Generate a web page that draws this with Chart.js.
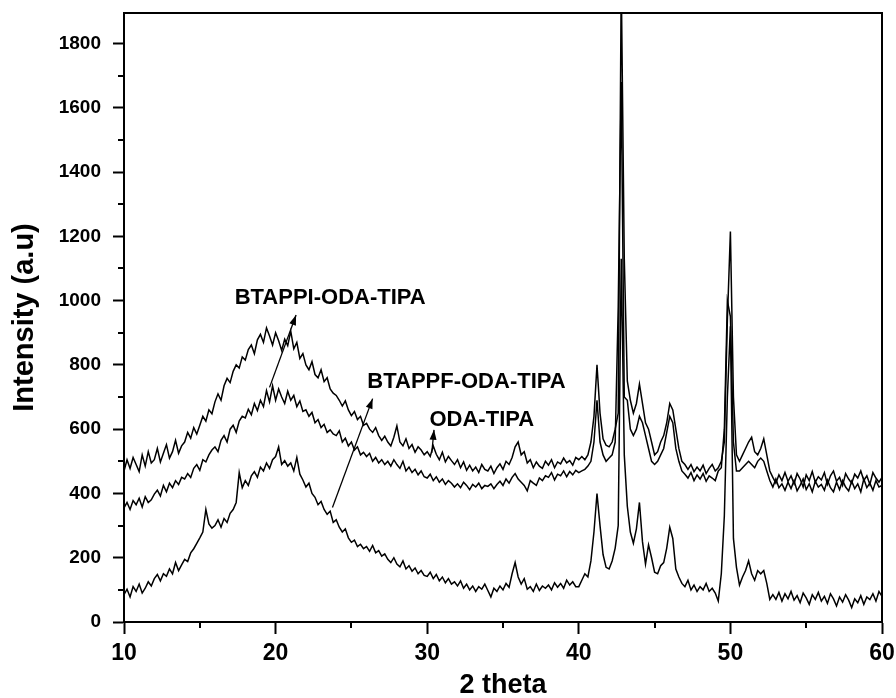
<!DOCTYPE html>
<html>
<head>
<meta charset="utf-8">
<script src="https://cdn.jsdelivr.net/npm/chart.js@4.4.1/dist/chart.umd.min.js"></script>
<style>
  html, body { margin: 0; padding: 0; background: #fff; }
  #wrap { width: 896px; height: 698px; }
</style>
</head>
<body>
<div id="wrap"><canvas id="xrd" width="896" height="698"></canvas></div>
<script>
'use strict';

// ---- Data (2 theta from 10 to 60, one reading every 0.2 deg) ----
var thetaStart = 10;
var thetaStep = 0.2;

// upper curve
var odaTipa = [
  470, 505, 478, 512, 490, 468, 520, 485, 530, 495,
  505, 540, 498, 525, 552, 510, 530, 565, 525, 548,
  560, 590, 572, 605, 585, 612, 640, 625, 660, 648,
  685, 710, 690, 735, 758, 745, 780, 800, 790, 825,
  815, 848, 862, 835, 878, 895, 870, 915, 890, 862,
  900, 875, 845, 880, 860, 905, 850, 870, 820, 835,
  800, 785, 810, 770, 760, 785, 748, 760, 725, 712,
  705, 690, 672, 688, 660, 642, 655, 630, 640, 612,
  618, 600, 590, 605, 580, 565, 578, 560, 548, 575,
  610, 560, 548, 570, 540, 552, 528, 545, 535, 520,
  530, 515, 548, 522, 505, 528, 498, 515, 502, 490,
  505, 480, 498, 472, 488, 470, 482, 465, 490, 475,
  470, 485, 462, 480, 492, 475, 500, 490, 512, 545,
  560, 520, 530, 495, 505, 480, 498, 485, 478, 500,
  488, 505, 480, 498, 492, 510, 495, 502, 488, 512,
  505, 515, 505, 520, 560, 640, 800, 650, 570, 550,
  545, 560, 600, 650, 2000, 1130, 750, 690, 650, 680,
  740, 680, 620, 600, 560, 520, 530, 560, 580, 620,
  680, 660, 600, 540, 500, 490, 475, 490, 468, 482,
  470, 488, 462, 478, 490, 470, 480, 500, 560, 940,
  1215, 700, 520, 500, 520, 540, 560, 575, 530, 520,
  540, 570, 520, 470, 450, 432, 458, 440, 465, 438,
  455, 430, 462, 445, 420, 458, 440, 468, 435, 452,
  442, 465, 428, 455, 470, 438, 450, 425, 462, 445,
  432, 460, 448, 470, 440, 455, 428, 465, 448, 435,
  450
];

// middle curve
var btappiOdaTipa = [
  355, 372, 350, 378, 365, 385, 358, 390, 372, 380,
  398, 410, 392, 425, 405, 432, 418, 440, 428, 450,
  445, 462, 450, 478, 490, 472, 505, 498, 520, 535,
  545, 530, 565, 580, 560, 600, 612, 590, 625, 640,
  635, 662, 645, 680, 658, 690, 670, 720, 685, 735,
  690, 725, 700, 680, 718, 690, 705, 670, 688, 655,
  660, 640, 652, 620, 630, 605, 615, 590, 598, 585,
  580, 595, 560, 572, 548, 560, 535, 545, 520, 528,
  515, 525, 500, 512, 495, 505, 490, 500, 485, 505,
  490, 478, 500, 470, 482, 465, 475, 458, 470, 452,
  448, 460, 440, 452, 435, 445, 428, 440, 432, 420,
  430, 418, 435, 425, 412, 428, 420, 432, 415, 425,
  422, 430, 415, 428, 438, 425, 445, 432, 450, 462,
  445, 435, 425, 408, 440, 432, 425, 448, 440, 455,
  450, 465, 442, 460, 455, 470, 452, 468, 458, 472,
  465, 470, 475, 485, 500, 560, 690, 560, 520, 500,
  510, 520, 560, 980, 1680, 700, 690, 600, 580, 600,
  640, 620, 580, 540, 500, 490, 500, 520, 540, 590,
  640, 620, 540, 500, 470, 460, 448, 465, 440, 458,
  445, 462, 438, 455, 448, 440, 470, 480, 600, 1000,
  950, 560, 470, 470, 480, 490, 500, 490, 480, 500,
  510, 500, 470, 440, 420, 445, 418, 430, 410, 435,
  415, 440, 408, 425, 445, 412, 430, 405, 438, 420,
  428, 410, 442, 418, 405, 435, 412, 440, 420, 408,
  438, 415, 430, 405, 445, 418, 432, 410, 440, 420,
  425
];

// lower curve
var btappfOdaTipa = [
  85, 102, 78, 110, 95, 118, 90, 105, 125, 112,
  135, 148, 128, 150, 142, 165, 150, 185, 160, 178,
  195, 188, 215, 228, 245, 262, 280, 350, 305, 292,
  300, 318, 295, 322, 310, 338, 350, 372, 465, 418,
  440, 425, 455, 468, 450, 482, 470, 495, 478, 505,
  515, 545, 490, 502, 485, 495, 470, 512, 460, 442,
  420, 432, 400, 388, 365, 375, 350, 335, 345, 310,
  318, 295, 280, 290, 262, 248, 255, 235, 242, 228,
  235, 220, 238, 215, 222, 205, 212, 195, 185, 200,
  180, 172, 190, 165, 175, 158, 168, 150, 160, 145,
  142, 155, 135, 148, 128, 140, 122, 135, 118, 125,
  112, 128, 105, 118, 100, 112, 95, 110, 102, 118,
  98, 78, 105, 95, 112, 100, 120, 108, 150, 185,
  140, 118, 135, 102, 110, 95, 118, 98, 112, 105,
  115, 100, 122, 108, 120, 105, 130, 115, 125, 110,
  110, 130, 150, 140, 190, 280, 400, 300, 210, 170,
  165, 190, 230, 300, 1130, 520, 360, 280, 245, 290,
  372, 250, 180, 240, 200, 155, 150, 175, 185, 230,
  295, 260, 165, 140, 120, 110, 130, 100, 115, 95,
  110, 100, 120, 95, 105, 90, 65, 150, 330, 700,
  920, 260, 170, 115, 140, 160, 190, 150, 130, 160,
  150, 160, 120, 70, 85, 70, 92, 65, 88, 72,
  95, 68, 82, 60, 90, 75, 55, 85, 70, 92,
  65, 80, 58, 88, 72, 50, 78, 62, 85, 68,
  45, 72, 60, 82, 55, 78, 70, 88, 65, 95,
  80
];

var xTicks = [10, 20, 30, 40, 50, 60];
var xMinorTicks = [15, 25, 35, 45, 55];
var yTicks = [0, 200, 400, 600, 800, 1000, 1200, 1400, 1600, 1800];
var yMinorTicks = [100, 300, 500, 700, 900, 1100, 1300, 1500, 1700];

// curve labels and the arrows pointing at the curves (data coordinates)
var labelTexts = ['BTAPPI-ODA-TIPA', 'BTAPPF-ODA-TIPA', 'ODA-TIPA'];
var labelAt = [[17.3, 1008], [26.05, 747], [30.15, 630]];
var arrowFrom = [[19.6, 730], [23.75, 356], [30.3, 526]];
var arrowTo = [[21.35, 955], [26.4, 695], [30.45, 598]];

var FONT = "'Liberation Sans', Arial, sans-serif";

function toPoints(vals) {
  return vals.map(function(v, i) {
    return { x: Math.round((thetaStart + i * thetaStep) * 10) / 10, y: v };
  });
}

function curve(vals) {
  return {
    data: toPoints(vals),
    borderColor: '#000',
    borderWidth: 1.5,
    pointRadius: 0,
    tension: 0,
    fill: false,
  };
}

// ---- frame, minor ticks, labels with arrows ----
var xrdDecor = {
  id: 'xrdDecor',
  beforeDraw: function(chart) {
    var ctx = chart.ctx;
    ctx.save();
    ctx.fillStyle = '#fff';
    ctx.fillRect(0, 0, chart.width, chart.height);
    ctx.restore();
  },
  afterDraw: function(chart) {
    var ctx = chart.ctx, a = chart.chartArea;
    var xs = chart.scales.x, ys = chart.scales.y;
    ctx.save();
    ctx.strokeStyle = '#000';
    ctx.lineWidth = 2;
    ctx.strokeRect(a.left, a.top, a.right - a.left, a.bottom - a.top);

    ctx.beginPath();
    xMinorTicks.forEach(function(v) {
      var px = Math.round(xs.getPixelForValue(v));
      ctx.moveTo(px, a.bottom);
      ctx.lineTo(px, a.bottom + 6);
    });
    yMinorTicks.forEach(function(v) {
      var py = Math.round(ys.getPixelForValue(v));
      ctx.moveTo(a.left, py);
      ctx.lineTo(a.left - 6, py);
    });
    ctx.stroke();

    ctx.fillStyle = '#000';
    ctx.font = 'bold 22px ' + FONT;
    ctx.textAlign = 'left';
    ctx.textBaseline = 'middle';
    labelTexts.forEach(function(t, i) {
      ctx.fillText(t, xs.getPixelForValue(labelAt[i][0]), ys.getPixelForValue(labelAt[i][1]));
    });

    ctx.lineWidth = 1.3;
    arrowFrom.forEach(function(p, i) {
      var x0 = xs.getPixelForValue(p[0]), y0 = ys.getPixelForValue(p[1]);
      var x1 = xs.getPixelForValue(arrowTo[i][0]), y1 = ys.getPixelForValue(arrowTo[i][1]);
      var ang = Math.atan2(y1 - y0, x1 - x0);
      ctx.beginPath();
      ctx.moveTo(x0, y0);
      ctx.lineTo(x1, y1);
      ctx.stroke();
      ctx.beginPath();
      ctx.moveTo(x1, y1);
      ctx.lineTo(x1 - 10 * Math.cos(ang) + 3.5 * Math.sin(ang), y1 - 10 * Math.sin(ang) - 3.5 * Math.cos(ang));
      ctx.lineTo(x1 - 10 * Math.cos(ang) - 3.5 * Math.sin(ang), y1 - 10 * Math.sin(ang) + 3.5 * Math.cos(ang));
      ctx.closePath();
      ctx.fill();
    });
    ctx.restore();
  }
};

new Chart(document.getElementById('xrd'), {
  type: 'line',
  data: {
    datasets: [curve(odaTipa), curve(btappiOdaTipa), curve(btappfOdaTipa)],
  },
  options: {
    responsive: false,
    animation: false,
    layout: { padding: { top: 13, right: 14, left: 0, bottom: 0 } },
    plugins: {
      legend: { display: false },
      tooltip: { enabled: false },
    },
    scales: {
      x: {
        type: 'linear',
        min: 10,
        max: 60,
        afterBuildTicks: function(s) {
          s.ticks = xTicks.map(function(v) { return { value: v }; });
        },
        afterFit: function(s) {
          s.height = 76;
          s.paddingLeft = 0;
          s.paddingRight = 0;
        },
        grid: { drawOnChartArea: false, tickLength: 12, tickWidth: 2, tickColor: '#000' },
        border: { color: '#000', width: 2 },
        ticks: {
          color: '#000',
          padding: 6,
          maxRotation: 0,
          callback: function(v) { return String(v); },
          font: { family: FONT, size: 23, weight: 'bold' },
        },
        title: {
          display: true,
          text: '2 theta',
          color: '#000',
          padding: { top: 0, bottom: 0 },
          font: { family: FONT, size: 27, weight: 'bold', lineHeight: 0.9 },
        },
      },
      y: {
        type: 'linear',
        min: 0,
        max: 1895,
        afterBuildTicks: function(s) {
          s.ticks = yTicks.map(function(v) { return { value: v }; });
        },
        afterFit: function(s) {
          s.width = 124;
          s.paddingTop = 0;
          s.paddingBottom = 0;
        },
        grid: { drawOnChartArea: false, tickLength: 11, tickWidth: 2, tickColor: '#000' },
        border: { color: '#000', width: 2 },
        ticks: {
          color: '#000',
          padding: 12,
          callback: function(v) { return String(v); },
          font: { family: FONT, size: 19, weight: 'bold' },
        },
        title: {
          display: true,
          text: 'Intensity (a.u)',
          color: '#000',
          padding: { top: 8, bottom: 0 },
          font: { family: FONT, size: 29, weight: 'bold' },
        },
      },
    },
  },
  plugins: [xrdDecor],
});
</script>
</body>
</html>
